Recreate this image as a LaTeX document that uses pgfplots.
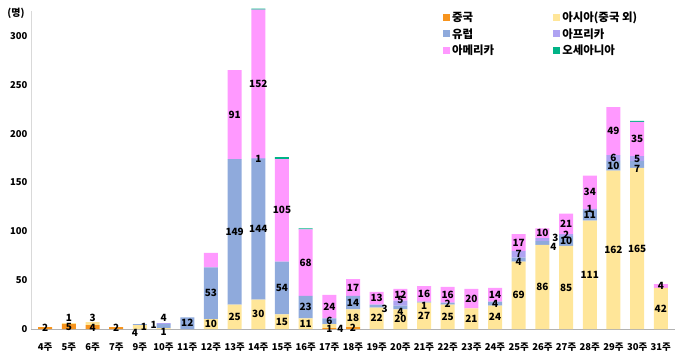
\documentclass[border=0pt]{standalone}
\usepackage{fontspec}
\setmainfont{Noto Sans CJK KR}
\usepackage{pgfplots}
\usepackage{pgfplotstable}
\pgfplotsset{compat=1.18}
\definecolor{cChina}{HTML}{F7941D}
\definecolor{cAsia}{HTML}{FFE699}
\definecolor{cEurope}{HTML}{8FAADC}
\definecolor{cAfrica}{HTML}{AFA3F2}
\definecolor{cAmerica}{HTML}{FF99FF}
\definecolor{cOceania}{HTML}{00B386}
\pgfplotsset{
  sqlegend/.style={legend image code/.code={\fill[##1] (0bp,-3.5bp) rectangle (7bp,3.5bp);}},
  off/.style 2 args={visualization depends on={\thisrow{#1} \as \ox},
    visualization depends on={\thisrow{#2} \as \oy},
    every node near coord/.append style={xshift={\ox*1bp}, yshift={\oy*1bp}}},
}
\pgfplotstableread{
x china asia europe africa america amlab oceania cx cy ax ay ex ey fx fy
0 2 0 0 0 0 0 0 0 0 0 0 0 0 0 0
1 5 1 0 0 0 0 0 0 0 0 6 0 0 0 0
2 4 3 0 0 0 0 0 0 -1 0 6 0 0 0 0
3 2 0 0 0 0 0 0 0 0 0 0 0 0 0 0
4 0 4 1 0 0 0 0 0 0 -5 -6 4 -2 0 0
5 0 1 4 1 0 0 0 0 0 0 -3 0 8 -10 -1
6 0 0 12 0 0 0 0 0 0 0 0 0 0 0 0
7 0 10 53 0 15 0 0 0 0 0 0 0 0 0 0
8 0 25 149 0 91 91 0 0 0 0 0 0 0 0 0
9 0 30 144 1 152 152 1 0 0 0 0 0 0 0 0
10 0 15 54 0 105 105 2 0 0 0 0 0 0 0 0
11 0 11 23 0 68 68 1 0 0 0 0 0 0 0 0
12 1 4 6 0 24 24 0 0 0 11 -3 0 0 0 0
13 2 18 14 0 17 17 0 0 0 0 0 0 0 0 0
14 0 22 3 0 13 13 0 0 0 0 0 8 -3 0 0
15 0 20 4 5 12 12 0 0 0 0 0 0 -4 0 3
16 0 27 1 0 16 16 0 0 0 0 0 0 -4 0 0
17 0 25 2 0 16 16 0 0 0 0 0 0 0 0 0
18 0 21 0 0 20 20 0 0 0 0 0 0 0 0 0
19 0 24 4 0 14 14 0 0 0 0 0 0 0 0 0
20 0 69 4 7 17 17 0 0 0 0 0 0 -2 0 0
21 0 86 4 3 10 10 0 0 0 0 0 11 -4 13 2
22 0 85 10 2 21 21 0 0 0 0 0 0 0 0 0
23 0 111 11 1 34 34 0 0 0 0 0 0 0 0 0
24 0 162 10 6 49 49 0 0 0 0 0 0 0 0 0
25 0 165 7 5 35 35 1 0 0 0 0 0 -4 0 0
26 0 42 0 0 4 4 0 0 0 0 0 0 0 0 0
}\data
\begin{document}
\begin{tikzpicture}
\useasboundingbox (0,0) rectangle (680bp,358bp);
\begin{axis}[
  scale only axis, width=644bp, height=317.5bp,
  at={(31bp,29bp)}, anchor=south west,
  ybar stacked, bar width=14bp,
  xmin=-0.6, xmax=26.6, ymin=0, ymax=325,
  xtick=data,
  xticklabels={4주,5주,6주,7주,9주,10주,11주,12주,13주,14주,15주,16주,17주,18주,19주,20주,21주,22주,23주,24주,25주,26주,27주,28주,29주,30주,31주},
  ytick={0,50,...,300},
  axis x line*=bottom, axis y line*=left,
  axis line style={-},
  x axis line style={draw=black!30, line width=1pt},
  y axis line style={draw=black!15, line width=1pt},
  major tick length=0pt,
  tick label style={font=\bfseries\fontsize{9.5}{10}\selectfont},
  xticklabel style={yshift=-10bp},
  /pgf/number format/assume math mode=true,
  nodes near coords={\pgfmathfloatifflags{\pgfplotspointmeta}{0}{}{\pgfmathprintnumber{\pgfplotspointmeta}}},
  nodes near coords style={font=\bfseries\fontsize{10}{10}\selectfont, text=black, inner sep=0pt},
  every node near coord/.append style={anchor=center},
  sqlegend,
  legend columns=2,
  legend cell align=left,
  legend style={at={(0.635,1.011)}, anchor=north west, draw=none, fill=none,
    font=\bfseries\fontsize{11.5}{13}\selectfont, row sep=1bp,
    /tikz/every even column/.append style={column sep=57bp}},
  clip=false,
]
\addplot[fill=cChina, draw=none, off={cx}{cy}] table[x=x,y=china]{\data};
\addplot[fill=cAsia, draw=none, off={ax}{ay}] table[x=x,y=asia]{\data};
\addplot[fill=cEurope, draw=none, off={ex}{ey}] table[x=x,y=europe]{\data};
\addplot[fill=cAfrica, draw=none, off={fx}{fy}] table[x=x,y=africa]{\data};
\addplot[fill=cAmerica, draw=none, point meta=explicit] table[x=x,y=america,meta=amlab]{\data};
\addplot[fill=cOceania, draw=none, nodes near coords={}] table[x=x,y=oceania]{\data};
\legend{중국,아시아(중국 외),유럽,아프리카,아메리카,오세아니아}
\node[font=\bfseries\fontsize{10}{12}\selectfont] at (rel axis cs:0,1) [xshift=-15bp, yshift=-2bp] {(명)};
\end{axis}
\end{tikzpicture}
\end{document}
